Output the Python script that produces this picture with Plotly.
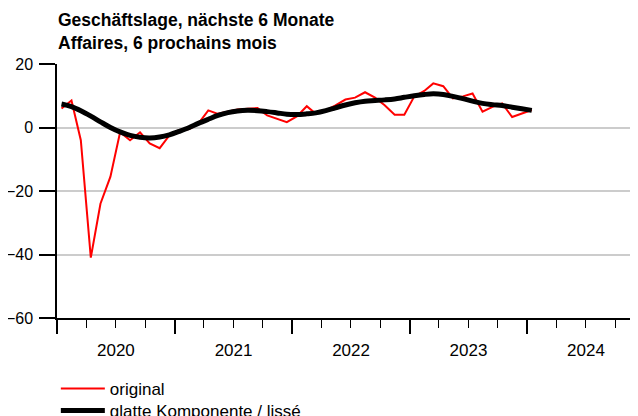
import plotly.graph_objects as go
import pandas as pd

months = pd.date_range("2020-01-01", periods=49, freq="MS") + pd.Timedelta(days=14)

original = [6.0, 8.5, -4.0, -41.0, -24.0, -15.5, -1.5, -4.0, -1.5, -5.0, -6.5, -2.5,
            -0.8, -0.5, 1.2, 5.4, 4.3, 5.0, 5.7, 5.9, 6.1, 3.8, 2.8, 1.7,
            3.5, 6.7, 4.3, 5.4, 7.0, 8.8, 9.4, 11.1, 9.4, 7.0, 4.0, 4.0,
            9.8, 11.5, 13.9, 13.0, 9.2, 9.8, 10.7, 5.0, 6.5, 7.6, 3.3, 4.4, 5.5]

smooth = [7.4, 6.6, 5.3, 3.6, 1.8, 0.0, -1.4, -2.5, -3.1, -3.3, -3.0, -2.3,
          -1.2, 0.0, 1.3, 2.6, 3.8, 4.7, 5.2, 5.4, 5.3, 5.0, 4.6, 4.2,
          4.1, 4.3, 4.6, 5.3, 6.2, 7.1, 7.8, 8.3, 8.5, 8.7, 9.0, 9.5,
          10.0, 10.4, 10.6, 10.4, 9.8, 9.1, 8.3, 7.6, 7.2, 6.9, 6.4, 5.9, 5.4]

y_ticks = [-60, -40, -20, 0, 20]
title_lines = ["Geschäftslage, nächste 6 Monate", "Affaires, 6 prochains mois"]

# page body has an 8px default margin, so figure coordinates are page - 8
W, H = 630, 408
M_L, M_T, M_B = 49, 56, 98
plot_h = H - M_T - M_B

fig = go.Figure()
fig.add_trace(go.Scatter(x=months, y=original, mode="lines", name="original",
                         line=dict(color="#ff0000", width=2), legend="legend"))
fig.add_trace(go.Scatter(x=months, y=smooth, mode="lines", name="glatte Komponente / lissé",
                         line=dict(color="#000000", width=5, shape="spline"), legend="legend2"))

title_center = 23  # figure px from top, midpoint of the two title lines
fig.add_annotation(text="<br>".join(f"<b>{t}</b>" for t in title_lines),
                   xref="paper", yref="paper", align="left",
                   x=0, xanchor="left", y=1 + (M_T - title_center) / plot_h, yanchor="middle",
                   showarrow=False, font=dict(size=17.5, color="black"), xshift=-1)

def leg_y(fig_px):
    return 1 - (fig_px - M_T) / plot_h

legend_common = dict(x=-0.002, xanchor="left", yanchor="top", bgcolor="rgba(0,0,0,0)",
                     font=dict(size=17), itemwidth=44)

fig.update_layout(
    width=W, height=H,
    margin=dict(l=M_L, r=0, t=M_T, b=M_B, autoexpand=False),
    paper_bgcolor="white", plot_bgcolor="white",
    font=dict(family="Liberation Sans, Arial, sans-serif", size=17, color="black"),
    showlegend=True,
    legend=dict(y=leg_y(363), **legend_common),
    legend2=dict(y=leg_y(385), **legend_common),
    xaxis=dict(type="date", range=["2020-01-01", "2024-12-10"], automargin=False,
               dtick="M12", tick0="2020-01-01", tickformat="%Y", ticklabelmode="period",
               ticks="outside", ticklen=14, tickwidth=1.5, tickcolor="black",
               showgrid=False, zeroline=False,
               showline=True, linecolor="black", linewidth=1.5,
               ticklabelstandoff=2,
               minor=dict(dtick="M3", ticks="outside", ticklen=8, tickwidth=1, tickcolor="black", showgrid=False),
               tickfont=dict(size=17)),
    yaxis=dict(range=[-60, 20], tickvals=y_ticks, automargin=False,
               ticks="outside", ticklen=16, tickwidth=1.5, tickcolor="black",
               showgrid=True, gridcolor="#cccccc", gridwidth=1.5,
               zeroline=False, showline=True, linecolor="black", linewidth=1.5,
               ticklabelstandoff=3,
               tickfont=dict(size=16)),
)

fig.write_html("out.html")
